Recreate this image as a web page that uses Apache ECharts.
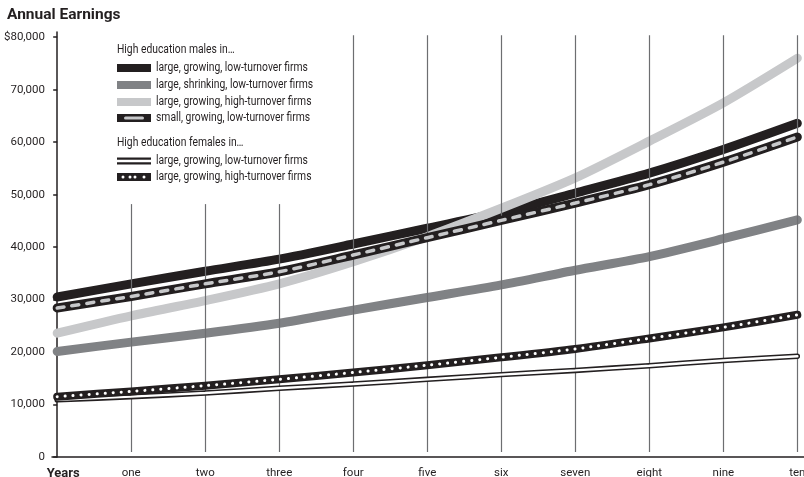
<!DOCTYPE html>
<html>
<head>
<meta charset="utf-8">
<script src="https://cdn.jsdelivr.net/npm/echarts@6/dist/echarts.min.js"></script>
<style>html,body{margin:0;padding:0;background:#fff}#c{width:804px;height:477px}</style>
</head>
<body>
<div id="c"></div>
<script>
// ---- data ----
const years = [0, 1, 2, 3, 4, 5, 6, 7, 8, 9, 10];
const yearLabels = ['Years', 'one', 'two', 'three', 'four', 'five', 'six', 'seven', 'eight', 'nine', 'ten'];
const yTicks = [0, 10000, 20000, 30000, 40000, 50000, 60000, 70000, 80000];

const maleLargeGrowingLow   = [30500, 33000, 35400, 37700, 40600, 43600, 46600, 50300, 54100, 58600, 63600];
const maleLargeShrinkingLow = [20100, 21900, 23600, 25500, 28000, 30400, 32800, 35600, 38200, 41600, 45200];
const maleLargeGrowingHigh  = [23600, 26900, 29800, 33000, 37200, 42000, 47400, 53200, 60200, 67500, 76000];
const maleSmallGrowingLow   = [28400, 30600, 33000, 35300, 38500, 41800, 45100, 48400, 51900, 56200, 61000];
const femLargeGrowingLow    = [10900, 11500, 12200, 13100, 13900, 14800, 15700, 16500, 17400, 18400, 19200];
const femLargeGrowingHigh   = [11500, 12500, 13600, 14800, 16100, 17500, 19000, 20600, 22600, 24700, 27100];

const gridYears = [1, 2, 3, 4, 5, 6, 7, 8, 9, 10];
const gridTop   = [48200, 48200, 48200, 80400, 80400, 80400, 80400, 80400, 80400, 80400];
const gridBottom = 950;

const legendMales = ['large, growing, low-turnover firms', 'large, shrinking, low-turnover firms', 'large, growing, high-turnover firms', 'small, growing, low-turnover firms'];
const legendFemales = ['large, growing, low-turnover firms', 'large, growing, high-turnover firms'];

// ---- chart ----
const FONT = 'Roboto, "Liberation Sans", sans-serif';
const INK = '#231f20';
const pts = arr => years.map((x, i) => [x, arr[i]]);

function lineSeries(name, arr, color, width, z, extra) {
  return Object.assign({
    name, type: 'line', data: pts(arr), symbol: 'none', smooth: 0.25, z, silent: true,
    lineStyle: { color, width, cap: 'round', join: 'round' }
  }, extra || {});
}

const series = [
  lineSeries('m2', maleLargeShrinkingLow, '#808285', 9, 2),
  lineSeries('m1', maleLargeGrowingLow, INK, 9, 3),
  lineSeries('m3', maleLargeGrowingHigh, '#c7c8ca', 9, 4),
  lineSeries('m4', maleSmallGrowingLow, INK, 9, 5),
  lineSeries('m4i', maleSmallGrowingLow, '#c7c8ca', 3.5, 6, { lineStyle: { color: '#c7c8ca', width: 3.5, cap: 'round', type: [7, 8] } }),
  lineSeries('f1', femLargeGrowingLow, INK, 5.5, 7),
  lineSeries('f1i', femLargeGrowingLow, '#ffffff', 2.4, 8, { lineStyle: { color: '#fff', width: 2.4, cap: 'round' } }),
  lineSeries('f2', femLargeGrowingHigh, INK, 8, 9),
  lineSeries('f2i', femLargeGrowingHigh, '#ffffff', 3, 10, { lineStyle: { color: '#fff', width: 3, cap: 'round', type: [0.1, 7.9] } }),
  {
    name: 'grid', type: 'line', data: [], z: 1, silent: true,
    markLine: {
      silent: true, symbol: 'none', animation: false,
      label: { show: false },
      lineStyle: { color: '#6d6e71', width: 1.2, type: 'solid' },
      data: gridYears.map((x, i) => [{ coord: [x, gridTop[i]] }, { coord: [x, gridBottom] }])
    }
  }
];

// legend drawn as graphic elements
const LX = 117, SW = 34, SH = 8, TX = 156;
const graphics = [];
function txt(x, y, s) {
  graphics.push({ type: 'text', x: x, y: y, scaleX: 0.86, style: { text: s, fill: INK, font: '12px ' + FONT, verticalAlign: 'middle', align: 'left' }, z: 100 });
}
function rect(x, y, w, h, fill, r) {
  graphics.push({ type: 'rect', shape: { x, y, width: w, height: h, r: r || 0 }, style: { fill }, z: 100 });
}
function circ(x, y, r, fill) {
  graphics.push({ type: 'circle', shape: { cx: x, cy: y, r }, style: { fill }, z: 101 });
}
txt(LX, 50, 'High education males in…');
const mRows = [68, 85, 102, 118];
mRows.forEach((y, i) => txt(TX, y, legendMales[i]));
rect(LX, mRows[0] - 4, SW, SH, INK);
rect(LX, mRows[1] - 4, SW, SH, '#808285');
rect(LX, mRows[2] - 4, SW, SH, '#c7c8ca');
rect(LX, mRows[3] - 4, SW, SH, INK);
rect(LX + 7, mRows[3] - 1.5, 20, 3, '#c7c8ca', 1.5);
txt(LX, 143, 'High education females in…');
const fRows = [161, 177];
fRows.forEach((y, i) => txt(TX, y, legendFemales[i]));
rect(LX, fRows[0] - 3.5, SW, 7, INK);
rect(LX, fRows[0] - 1.2, SW, 2.4, '#fff');
rect(LX, fRows[1] - 4, SW, SH, INK);
[LX + 6, LX + 13, LX + 18, LX + 27].forEach(x => circ(x, fRows[1], 1.5, '#fff'));

const option = {
  animation: false,
  backgroundColor: '#fff',
  title: { text: 'Annual Earnings', left: 7, top: 7, padding: 0, textStyle: { fontFamily: FONT, fontWeight: 'bold', fontSize: 15.5, color: INK } },
  grid: { left: 52, right: 0, top: 32, bottom: 20, containLabel: false, outerBoundsMode: 'none' },
  xAxis: {
    type: 'value', min: -0.07, max: 10.09,
    axisLine: { show: true, lineStyle: { color: INK, width: 1.5 } },
    axisTick: { show: false },
    splitLine: { show: false },
    axisLabel: {
      customValues: years, margin: 10, fontFamily: FONT, fontSize: 11.5, color: INK,
      hideOverlap: false,
      formatter: v => v === 0 ? '{b|' + yearLabels[0] + '}' : yearLabels[v],
      rich: { b: { fontFamily: FONT, fontWeight: 'bold', fontSize: 13, color: INK, padding: [0, 0, 0, 12] } }
    }
  },
  yAxis: {
    type: 'value', min: 0, max: 81000,
    axisLine: { show: true, lineStyle: { color: INK, width: 1.5 } },
    axisTick: { show: true, customValues: yTicks, length: 4, lineStyle: { color: INK, width: 1.5 } },
    splitLine: { show: false },
    axisLabel: {
      customValues: yTicks, margin: 7, fontFamily: FONT, fontSize: 11.5, color: INK,
      formatter: v => v === 80000 ? '$80,000' : v.toLocaleString('en-US')
    }
  },
  graphic: graphics,
  series
};
echarts.init(document.getElementById('c'), null, { renderer: 'canvas' }).setOption(option);
</script>
</body>
</html>
